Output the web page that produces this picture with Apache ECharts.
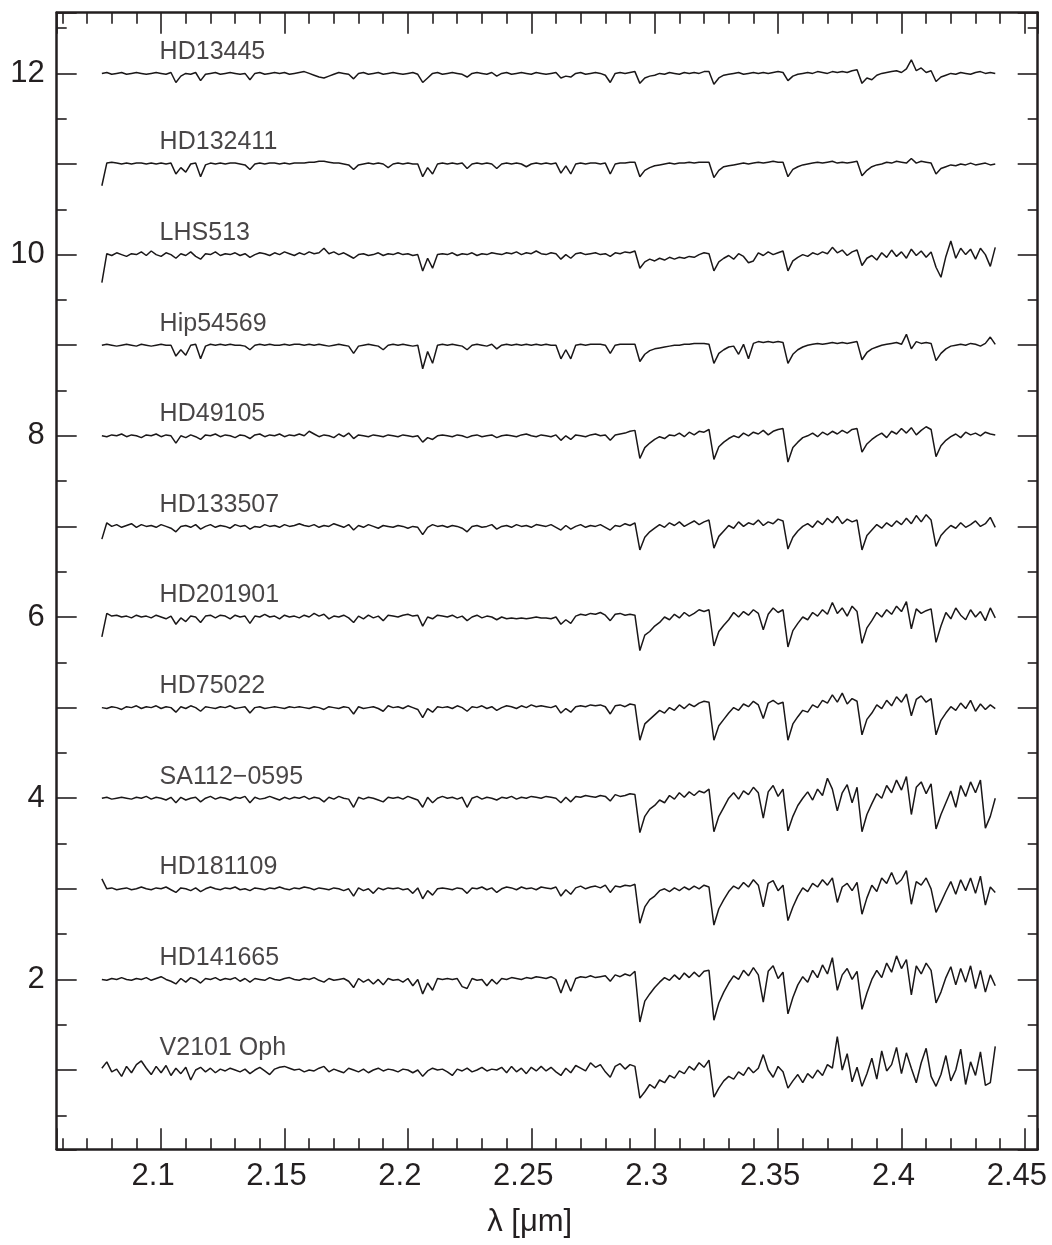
<!DOCTYPE html>
<html><head><meta charset="utf-8">
<script src="https://cdn.jsdelivr.net/npm/echarts@6/dist/echarts.min.js"></script>
<style>html,body{margin:0;padding:0;background:#fff}#chart{width:1052px;height:1245px}</style>
</head><body><div id="chart"></div>
<script>
// wavelength grid (micron)
const wavelength = [
2.076,2.078,2.080,2.082,2.084,2.086,2.088,2.090,2.092,2.094,
2.096,2.098,2.100,2.102,2.104,2.106,2.108,2.110,2.112,2.114,
2.116,2.118,2.120,2.122,2.124,2.126,2.128,2.130,2.132,2.134,
2.136,2.138,2.140,2.142,2.144,2.146,2.148,2.150,2.152,2.154,
2.156,2.158,2.160,2.162,2.164,2.166,2.168,2.170,2.172,2.174,
2.176,2.178,2.180,2.182,2.184,2.186,2.188,2.190,2.192,2.194,
2.196,2.198,2.200,2.202,2.204,2.206,2.208,2.210,2.212,2.214,
2.216,2.218,2.220,2.222,2.224,2.226,2.228,2.230,2.232,2.234,
2.236,2.238,2.240,2.242,2.244,2.246,2.248,2.250,2.252,2.254,
2.256,2.258,2.260,2.262,2.264,2.266,2.268,2.270,2.272,2.274,
2.276,2.278,2.280,2.282,2.284,2.286,2.288,2.290,2.292,2.294,
2.296,2.298,2.300,2.302,2.304,2.306,2.308,2.310,2.312,2.314,
2.316,2.318,2.320,2.322,2.324,2.326,2.328,2.330,2.332,2.334,
2.336,2.338,2.340,2.342,2.344,2.346,2.348,2.350,2.352,2.354,
2.356,2.358,2.360,2.362,2.364,2.366,2.368,2.370,2.372,2.374,
2.376,2.378,2.380,2.382,2.384,2.386,2.388,2.390,2.392,2.394,
2.396,2.398,2.400,2.402,2.404,2.406,2.408,2.410,2.412,2.414,
2.416,2.418,2.420,2.422,2.424,2.426,2.428,2.430,2.432,2.434,
2.436,2.438];

const starNames = ['HD13445','HD132411','LHS513','Hip54569','HD49105','HD133507','HD201901','HD75022','SA112\u22120595','HD181109','HD141665','V2101 Oph'];
const offsets = [11,10,9,8,7,6,5,4,3,2,1,0];

// normalised flux of each star (offset added when plotted)
const HD13445 = [
1.00,1.01,0.99,1.00,1.01,0.99,1.00,1.01,1.00,0.99,
1.00,1.01,1.00,0.99,1.01,0.90,0.97,1.00,0.99,1.01,
0.92,0.99,1.00,1.01,0.99,1.00,1.01,1.00,0.99,1.00,
0.93,1.00,1.01,0.99,1.00,1.01,1.00,1.01,0.99,1.00,
1.01,1.02,1.00,0.98,0.96,0.95,0.97,0.99,1.01,1.00,
0.99,0.94,1.00,1.01,0.99,1.00,1.01,0.99,1.00,1.01,
1.00,0.99,1.00,1.01,0.99,0.90,0.95,1.00,1.01,0.99,
1.00,1.01,1.00,0.99,0.96,1.00,1.01,1.00,0.99,1.01,
0.97,1.00,1.01,0.99,1.00,1.01,1.00,0.99,1.01,1.00,
0.99,1.00,1.01,0.95,0.97,0.96,1.00,1.01,0.99,1.00,
1.01,1.00,0.98,0.90,1.00,1.01,1.00,1.01,1.02,0.89,
0.95,0.97,0.98,1.00,0.99,1.01,1.00,0.99,1.01,1.00,
1.01,1.00,1.02,1.02,0.88,0.95,0.98,0.99,1.00,1.01,
0.99,1.00,1.01,1.00,1.01,1.00,1.01,1.02,1.01,0.92,
0.97,0.99,1.00,1.01,1.00,1.02,1.01,1.00,1.02,1.01,
1.02,1.01,1.03,1.04,0.89,0.95,0.93,0.98,1.00,1.01,
1.02,1.03,1.01,1.05,1.15,1.03,1.06,1.01,1.03,0.91,
0.96,0.98,1.00,0.99,1.01,1.00,0.99,1.01,1.02,1.00,
1.01,1.00];
const HD132411 = [
0.76,1.01,1.02,1.01,1.00,1.01,1.00,1.01,1.01,1.00,
1.01,1.00,1.01,1.00,1.01,0.89,0.96,0.91,1.00,1.01,
0.86,0.99,1.01,1.00,1.01,1.00,1.01,1.01,1.00,0.99,
0.94,1.00,1.01,1.00,1.01,1.01,1.00,1.01,1.00,1.01,
1.01,1.01,1.02,1.02,1.03,1.03,1.02,1.01,1.01,1.00,
0.99,0.94,0.99,1.00,1.01,1.00,1.01,1.00,0.96,1.00,
1.01,1.00,1.01,1.00,1.00,0.86,0.96,0.89,1.00,1.01,
1.00,1.01,1.00,1.01,0.95,1.00,1.01,1.00,1.01,1.00,
0.95,1.00,1.01,1.00,1.01,1.00,0.97,1.00,1.01,1.00,
1.01,1.00,1.01,0.90,0.98,0.89,1.00,1.01,1.00,1.01,
1.01,1.00,1.01,0.89,1.00,1.01,1.01,1.02,1.02,0.86,
0.93,0.96,0.98,0.99,1.00,1.01,1.00,1.01,1.01,1.02,
1.01,1.02,1.02,1.02,0.85,0.93,0.97,0.98,0.99,1.00,
1.01,1.00,1.01,1.02,1.01,1.02,1.03,1.02,1.02,0.86,
0.94,0.97,0.99,1.00,1.01,1.02,1.01,1.02,1.03,1.01,
1.02,1.01,1.02,1.03,0.87,0.93,0.97,0.99,1.00,1.02,
1.01,1.03,1.02,1.01,1.06,1.01,1.03,1.02,1.01,0.89,
0.95,0.97,0.99,0.98,1.00,0.99,1.01,0.99,1.00,1.01,
0.99,1.00];
const LHS513 = [
0.69,1.01,0.99,1.02,1.00,0.98,1.01,1.00,1.03,0.99,
1.04,1.00,0.98,1.02,1.00,0.96,1.01,0.99,1.03,0.98,
0.95,1.01,1.00,1.03,0.99,1.01,1.00,1.02,0.99,1.01,
0.97,1.00,1.02,1.01,0.99,1.02,1.00,1.03,1.01,0.99,
1.02,1.00,1.03,1.01,1.02,1.07,1.01,1.03,1.00,1.02,
0.99,0.96,1.00,1.01,0.99,1.00,1.02,0.99,1.01,1.00,
1.02,1.00,1.01,0.99,1.00,0.82,0.96,0.85,1.00,1.01,
1.00,1.02,0.99,1.01,1.00,1.02,0.99,1.01,1.00,1.02,
1.01,1.00,1.02,1.01,1.03,1.00,1.02,1.01,1.04,1.01,
1.00,1.02,1.01,0.95,1.00,0.96,1.01,1.02,1.00,1.01,
1.02,1.00,1.01,0.98,1.02,1.01,1.03,1.02,1.04,0.85,
0.92,0.95,0.93,0.96,0.94,0.97,0.95,0.97,0.96,0.98,
0.97,1.00,1.02,1.01,0.82,0.92,0.96,0.99,0.95,1.01,
0.98,0.91,0.93,1.02,0.99,1.03,1.00,1.02,1.04,0.82,
0.93,0.97,1.00,0.98,1.02,1.00,1.03,1.01,1.08,1.02,
1.05,0.99,1.03,1.05,0.88,0.96,0.99,0.94,1.02,0.97,
1.05,0.98,1.03,0.96,1.06,0.99,1.04,0.97,1.03,0.86,
0.75,0.98,1.15,0.96,1.07,1.00,1.06,0.95,1.07,1.00,
0.87,1.08];
const Hip54569 = [
1.00,1.01,1.00,0.99,1.00,1.01,1.00,0.99,1.01,1.00,
0.99,1.00,1.01,1.00,1.00,0.88,0.95,0.89,1.00,1.01,
0.85,0.99,1.01,1.00,1.01,1.00,1.01,1.00,1.00,0.99,
0.95,1.00,1.01,1.00,1.01,1.00,1.00,1.01,1.00,1.01,
1.01,1.00,1.01,1.00,1.01,1.00,0.99,1.00,1.01,1.00,
0.99,0.91,0.99,1.00,1.01,1.00,0.99,0.95,1.00,1.01,
1.00,1.01,1.00,0.99,1.00,0.74,0.93,0.80,1.00,1.01,
1.00,1.01,1.00,0.99,0.95,1.00,1.01,1.00,0.99,1.01,
0.96,1.00,1.01,1.00,1.01,1.00,1.01,1.00,1.01,1.00,
1.01,1.00,1.00,0.85,0.95,0.85,1.00,1.01,1.00,1.01,
1.01,1.01,1.00,0.91,1.00,1.01,1.01,1.01,1.01,0.82,
0.90,0.94,0.96,0.97,0.98,0.99,1.00,1.00,1.01,1.01,
1.02,1.02,1.02,1.01,0.80,0.91,0.95,0.98,0.99,0.90,
1.01,0.85,1.02,1.04,1.03,1.04,1.03,1.04,1.03,0.80,
0.90,0.95,0.98,1.00,1.01,1.02,1.01,1.02,1.03,1.02,
1.03,1.02,1.03,1.04,0.84,0.92,0.96,0.98,1.00,1.01,
1.02,1.03,1.01,1.12,0.96,1.04,1.02,1.03,1.02,0.83,
0.91,0.96,0.99,1.00,1.01,1.00,1.02,1.01,0.99,1.02,
1.09,1.01];
const HD49105 = [
1.00,0.99,1.01,1.00,1.02,0.99,1.01,1.00,0.98,1.01,
1.00,1.02,0.99,1.01,1.00,0.92,1.00,0.98,1.01,0.99,
0.96,1.01,1.00,1.02,0.99,1.01,1.00,0.98,1.01,1.00,
0.97,1.01,1.02,0.99,1.01,1.00,1.02,0.99,1.01,1.00,
1.02,1.00,1.05,1.02,0.99,1.01,1.00,0.98,1.02,0.99,
1.03,0.97,1.01,1.00,0.99,1.01,1.00,0.99,1.01,1.00,
0.99,1.01,1.00,0.99,1.00,0.93,0.98,0.96,1.00,1.01,
1.00,0.99,1.01,1.00,0.98,1.00,1.01,0.99,1.00,1.01,
0.98,1.00,1.01,1.00,0.99,1.01,1.02,1.00,0.99,1.01,
1.00,0.99,1.01,0.95,1.00,0.96,1.01,1.00,0.99,1.01,
1.02,1.00,1.01,0.95,1.01,1.02,1.03,1.05,1.06,0.75,
0.87,0.92,0.96,0.99,0.97,1.01,1.00,1.03,0.99,1.04,
1.01,1.05,1.04,1.07,0.74,0.88,0.93,0.97,1.00,0.98,
1.03,1.00,1.04,1.02,1.06,1.01,1.05,1.07,1.08,0.71,
0.87,0.93,0.98,1.00,1.03,0.99,1.04,1.01,1.05,1.02,
1.06,1.03,1.07,1.08,0.82,0.91,0.96,1.00,1.03,0.98,
1.05,1.02,1.08,1.03,1.09,1.01,1.06,1.10,1.07,0.77,
0.89,0.95,0.99,1.02,0.98,1.04,1.01,1.03,1.00,1.04,
1.02,1.01];
const HD133507 = [
0.86,1.04,1.00,1.02,0.99,1.01,1.03,0.99,1.02,1.00,
1.01,0.99,1.02,1.00,0.98,0.94,1.00,1.01,0.99,1.02,
0.97,1.00,1.02,0.99,1.01,1.00,0.98,1.02,1.00,1.01,
0.97,1.00,0.99,1.02,1.00,1.01,0.99,1.02,1.00,1.01,
1.03,1.01,1.00,1.02,0.99,1.01,1.00,1.03,1.01,0.99,
1.02,0.96,1.01,0.99,1.02,1.00,0.98,1.01,1.00,0.99,
1.01,1.00,0.98,1.00,0.99,0.91,0.99,1.02,1.00,1.01,
0.99,1.01,1.00,0.98,0.94,1.00,1.01,0.99,1.00,1.02,
0.97,1.00,1.01,0.99,1.02,1.00,1.01,0.99,1.02,1.01,
1.00,1.02,0.99,0.96,1.01,0.97,1.00,1.02,0.99,1.01,
1.00,1.02,0.99,0.96,1.01,1.00,1.03,1.01,1.04,0.74,
0.88,0.94,0.98,1.02,0.99,1.04,1.01,1.05,1.00,1.03,
1.06,1.02,1.05,1.07,0.76,0.89,0.95,1.01,0.98,1.05,
1.00,1.04,1.02,1.07,1.01,1.05,1.03,1.08,1.06,0.75,
0.88,0.95,1.00,1.03,0.99,1.06,1.02,1.09,1.04,1.11,
1.03,1.08,1.05,1.07,0.74,0.90,0.96,1.02,0.98,1.04,
1.00,1.06,1.02,1.09,1.03,1.12,1.05,1.13,1.07,0.78,
0.90,0.96,1.01,0.98,1.04,0.99,1.02,1.06,1.00,1.03,
1.10,0.99];
const HD201901 = [
0.78,1.04,1.01,1.02,1.00,1.01,0.99,1.02,1.00,1.01,
0.99,1.02,1.00,0.98,1.01,0.92,0.99,0.95,1.01,1.00,
0.94,1.01,1.02,0.99,1.02,1.01,0.98,1.02,1.00,1.01,
0.93,1.01,1.00,1.03,1.00,1.01,0.98,1.02,1.00,1.01,
0.99,1.02,1.00,1.04,1.01,1.03,0.98,1.01,1.00,1.02,
0.99,0.94,1.01,0.98,1.02,0.99,1.01,0.96,1.02,1.01,
1.00,1.02,1.03,1.01,1.02,0.90,1.00,0.98,1.02,1.01,
1.00,1.02,0.99,1.01,0.96,1.00,1.02,0.99,1.01,1.00,
0.97,1.00,0.98,0.99,0.98,0.99,0.98,0.99,1.00,0.99,
0.99,0.98,1.00,0.92,0.97,0.93,1.01,1.03,1.02,1.04,
1.03,1.05,1.02,0.96,1.03,1.04,1.02,1.03,1.02,0.63,
0.80,0.84,0.90,0.94,1.00,0.97,1.03,0.99,1.05,1.01,
1.04,1.08,1.06,1.08,0.68,0.84,0.91,0.97,1.05,1.00,
1.06,1.02,1.08,1.04,0.86,1.03,1.10,1.05,1.08,0.67,
0.85,0.93,1.00,0.97,1.05,1.01,1.08,1.03,1.16,1.04,
1.10,1.01,1.12,1.06,0.71,0.88,0.96,1.05,1.00,1.08,
1.03,1.12,1.06,1.17,0.87,1.09,1.04,1.07,1.09,0.72,
0.90,1.05,0.98,1.10,1.02,0.97,1.08,1.00,1.06,0.96,
1.10,0.99];
const HD75022 = [
1.00,0.99,1.01,1.00,0.98,1.01,1.00,1.02,0.99,1.01,
1.00,1.02,0.99,1.01,1.00,0.95,1.01,0.99,1.02,1.00,
0.96,1.01,1.00,0.99,1.01,1.00,1.02,0.99,1.00,1.01,
0.94,1.00,1.01,0.99,1.00,1.01,1.00,0.99,1.01,1.00,
1.01,1.00,0.99,1.01,1.00,0.98,1.01,1.00,0.99,1.01,
1.00,0.93,1.01,0.99,1.00,1.01,0.99,0.96,1.02,1.00,
1.01,0.99,1.02,1.00,0.98,0.89,0.99,0.95,1.01,1.00,
1.01,0.99,1.02,1.00,0.96,1.01,1.00,1.02,0.99,1.01,
0.97,1.00,1.02,1.01,0.99,1.02,1.00,1.03,1.01,1.02,
1.01,1.00,1.02,0.94,0.99,0.95,1.01,1.02,1.01,1.03,
1.02,1.03,1.01,0.93,1.02,1.03,1.01,1.04,1.03,0.64,
0.82,0.87,0.92,0.97,0.94,1.00,0.97,1.03,0.99,1.04,
1.01,1.05,1.07,1.06,0.64,0.80,0.87,0.94,1.00,0.97,
1.04,1.01,1.07,1.03,0.88,1.05,1.08,1.04,1.06,0.64,
0.82,0.90,0.97,0.95,1.03,1.00,1.08,1.05,1.14,1.06,
1.16,1.04,1.10,1.07,0.70,0.87,0.94,1.03,0.99,1.08,
1.02,1.12,1.06,1.15,0.91,1.09,1.13,1.06,1.10,0.70,
0.86,0.94,1.01,0.97,1.05,0.99,1.08,0.96,1.04,0.98,
1.03,0.99];
const SA112_0595 = [
1.00,1.01,0.99,1.00,1.01,1.00,0.99,1.01,1.00,1.02,
0.99,1.01,1.00,0.98,1.01,0.95,1.01,0.98,1.00,1.01,
0.96,1.00,1.02,0.99,1.01,1.00,0.98,1.01,1.00,1.02,
0.95,1.01,0.99,1.00,1.02,1.00,0.98,1.01,0.99,1.01,
1.00,1.02,0.99,1.01,1.00,0.96,1.01,0.99,1.02,1.00,
0.99,0.90,1.01,0.99,1.01,1.00,0.98,0.96,1.01,1.00,
1.01,0.99,1.02,1.00,0.98,0.90,1.01,0.95,1.00,1.02,
1.00,1.01,0.99,1.01,0.90,1.00,1.02,0.99,1.01,1.00,
0.98,1.01,1.00,1.02,0.99,1.01,1.00,1.02,1.01,1.00,
1.02,1.01,1.00,0.95,1.01,0.96,1.02,1.01,1.03,1.02,
1.01,1.03,1.02,0.97,1.04,1.02,1.03,1.05,1.04,0.62,
0.80,0.88,0.92,0.98,0.95,1.03,0.99,1.06,1.01,1.07,
1.03,1.08,1.06,1.10,0.63,0.80,0.90,1.00,1.06,0.99,
1.08,1.04,1.12,1.06,0.78,1.07,1.14,1.02,1.10,0.64,
0.80,0.92,1.00,1.07,0.98,1.10,1.03,1.22,1.10,0.86,
1.06,1.15,0.95,1.12,0.63,0.82,0.94,1.05,1.00,1.14,
1.06,1.20,1.09,1.24,0.82,1.12,1.18,1.05,1.16,0.66,
0.82,0.95,1.08,0.90,1.14,1.02,1.18,1.06,1.20,0.67,
0.80,1.00];
const HD181109 = [
1.11,1.00,1.01,0.99,1.00,1.01,0.99,1.00,1.02,1.00,
0.99,1.01,1.00,1.02,0.99,0.96,1.01,1.00,0.98,1.01,
0.97,1.00,1.02,1.00,0.99,1.01,1.00,1.02,0.99,1.00,
0.98,1.01,1.00,0.99,1.01,1.00,1.02,1.00,0.99,1.01,
1.00,1.02,1.01,0.99,1.01,1.00,0.99,1.01,1.00,0.98,
1.00,0.92,1.01,0.98,1.00,0.95,1.01,0.99,1.01,1.00,
1.01,0.99,1.00,0.95,1.01,0.89,0.98,0.93,1.00,1.01,
1.00,0.99,1.01,1.00,0.95,1.01,1.00,1.02,0.99,1.01,
0.96,1.00,1.02,1.01,0.99,1.02,1.00,1.01,0.99,1.02,
1.01,1.00,1.02,0.92,0.99,0.94,1.01,1.03,1.00,1.02,
1.03,1.01,1.04,0.96,1.03,1.02,1.04,1.03,1.05,0.62,
0.80,0.88,0.92,0.98,1.00,0.97,1.01,0.98,1.02,0.99,
1.03,1.00,1.04,1.02,0.60,0.78,0.88,0.97,1.03,1.00,
1.07,1.02,1.10,1.04,0.80,1.06,1.09,0.98,1.04,0.65,
0.80,0.92,1.01,0.97,1.06,1.02,1.10,1.04,1.12,0.85,
1.02,1.06,0.98,1.07,0.72,0.90,1.04,0.97,1.12,1.06,
1.18,1.05,1.10,1.20,0.83,1.08,1.04,1.12,1.00,0.74,
0.85,0.97,1.08,0.94,1.10,0.98,1.12,0.95,1.14,0.82,
1.02,0.96];
const HD141665 = [
1.00,0.99,1.01,1.00,1.02,1.00,0.99,1.01,1.00,1.02,
0.99,1.01,1.03,1.00,0.98,0.95,1.01,0.97,1.02,1.00,
0.96,1.01,1.00,1.02,0.99,1.01,1.00,1.02,0.98,1.01,
0.97,1.01,1.00,0.99,1.02,1.00,0.99,1.01,1.02,1.00,
0.99,1.01,1.00,1.02,0.99,0.97,1.01,0.99,1.00,1.01,
0.98,0.91,1.01,0.97,1.00,0.95,1.00,0.94,1.01,0.99,
1.00,0.97,1.01,0.93,1.00,0.84,0.96,0.88,1.01,1.00,
1.01,1.00,1.01,0.92,0.90,1.01,0.99,1.00,0.93,1.00,
0.95,1.01,1.00,1.02,1.01,1.00,1.02,1.01,1.03,1.02,
1.01,1.03,1.00,0.85,1.00,0.87,1.01,1.03,1.02,1.04,
1.02,1.03,1.04,0.98,1.05,1.03,1.06,1.04,1.09,0.53,
0.76,0.84,0.91,0.97,1.02,0.99,1.05,1.00,1.07,1.02,
1.08,1.03,1.09,1.10,0.55,0.74,0.86,0.96,1.04,1.00,
1.10,1.04,1.13,1.05,0.75,1.09,1.15,1.01,1.08,0.62,
0.80,0.94,1.03,0.97,1.10,1.02,1.16,1.06,1.24,0.88,
1.05,1.12,1.00,1.09,0.67,0.85,1.00,1.10,1.02,1.18,
1.08,1.26,1.12,1.22,0.83,1.15,1.06,1.18,1.10,0.74,
0.86,1.02,1.14,0.94,1.12,0.97,1.15,0.90,1.10,0.86,
1.05,0.93];
const V2101_Oph = [
1.02,1.09,0.98,1.01,0.93,1.04,0.97,1.06,1.10,1.02,
0.95,1.04,0.97,1.05,0.94,1.02,0.96,1.03,0.89,1.00,
1.03,0.98,1.02,0.97,1.01,0.99,1.02,1.00,0.98,1.01,
0.96,1.00,1.03,0.99,0.95,1.01,1.03,1.04,1.02,1.00,
1.01,0.98,1.00,0.99,1.02,1.04,0.98,1.01,0.99,0.97,
1.02,1.00,0.98,1.01,0.97,1.00,1.02,0.99,1.01,1.00,
0.98,1.01,1.00,0.97,1.00,0.93,0.99,1.02,1.00,1.01,
0.98,0.94,1.01,0.99,1.02,0.98,1.00,1.03,0.99,1.01,
1.00,1.03,0.97,1.04,0.98,1.02,0.96,1.03,0.99,1.04,
0.99,1.03,0.98,0.94,1.02,0.97,1.05,1.02,0.99,1.08,
1.03,1.06,0.98,0.92,1.04,1.07,1.01,1.06,1.04,0.69,
0.76,0.84,0.80,0.89,0.86,0.94,0.91,0.99,0.96,1.04,
1.00,1.08,1.03,1.11,0.70,0.80,0.88,0.93,0.90,0.98,
0.94,1.03,0.97,1.02,1.17,1.00,0.92,1.04,0.98,0.80,
0.88,0.95,0.86,0.96,0.91,1.00,0.94,1.06,1.02,1.37,
1.00,1.18,0.87,1.03,0.82,0.96,1.13,0.90,1.21,0.99,
1.06,1.25,0.96,1.19,1.02,0.86,1.08,1.24,0.93,0.82,
0.95,1.16,0.88,1.00,1.23,0.84,1.09,0.94,1.20,0.83,
0.86,1.26];

const spectra = [HD13445, HD132411, LHS513, Hip54569, HD49105, HD133507, HD201901, HD75022, SA112_0595, HD181109, HD141665, V2101_Oph];

const INK = '#231f20';
const FONT = '"Liberation Sans", Arial, Helvetica, sans-serif';

function xLabel(v) {
  const k = v * 20;
  return Math.abs(k - Math.round(k)) < 1e-6 ? String(+v.toFixed(2)) : '';
}
function yLabel(v) {
  const r = Math.round(v);
  return (Math.abs(v - r) < 1e-6 && r % 2 === 0 && r > 0) ? String(r) : '';
}

const xCommon = {
  type: 'value', min: 2.0577, max: 2.4552, splitNumber: 8, minInterval: 0.05, maxInterval: 0.05,
  axisLine: { show: true, onZero: false, lineStyle: { color: INK, width: 2.5 } },
  axisTick: { show: true, inside: true, length: 21, lineStyle: { color: INK, width: 1.6 } },
  minorTick: { show: true, splitNumber: 5, length: 11, lineStyle: { color: INK, width: 1.6 } },
  splitLine: { show: false }, minorSplitLine: { show: false }
};
const yCommon = {
  type: 'value', min: 0.125, max: 12.67, splitNumber: 12, minInterval: 1, maxInterval: 1,
  axisLine: { show: true, onZero: false, lineStyle: { color: INK, width: 2.5 } },
  axisTick: { show: true, inside: true, length: 20, lineStyle: { color: INK, width: 1.6 } },
  minorTick: { show: true, splitNumber: 2, length: 10, lineStyle: { color: INK, width: 1.6 } },
  splitLine: { show: false }, minorSplitLine: { show: false }
};

const lineSeries = spectra.map((flux, k) => ({
  type: 'line', name: starNames[k], xAxisIndex: 0, yAxisIndex: 0,
  data: wavelength.map((w, i) => [w, flux[i] + offsets[k]]),
  symbol: 'none', showSymbol: false, silent: true, animation: false,
  lineStyle: { color: '#1a1718', width: 1.5 }, z: 3
}));

const labelSeries = {
  type: 'scatter', xAxisIndex: 0, yAxisIndex: 0, symbolSize: 1, silent: true, animation: false,
  itemStyle: { color: 'rgba(0,0,0,0)' },
  data: starNames.map((n, k) => ({ name: n, value: [2.0992, offsets[k] + 1.238] })),
  label: { show: true, position: 'right', distance: 0, formatter: '{b}', color: '#1a1718', fontSize: 25, fontFamily: FONT }
};

const chart = echarts.init(document.getElementById('chart'), null, { renderer: 'canvas' });
chart.setOption({
  animation: false,
  backgroundColor: '#ffffff',
  grid: { left: 56.7, right: 14.3, top: 12.7, bottom: 95.7, containLabel: false, outerBoundsMode: 'none' },
  xAxis: [
    Object.assign({}, xCommon, {
      position: 'bottom',
      axisLabel: { show: true, formatter: xLabel, color: INK, fontSize: 31, fontFamily: FONT, margin: 12, padding: [0, 16, 0, 0] },
      name: '\u03bb [\u03bcm]', nameLocation: 'middle', nameGap: 58,
      nameTextStyle: { color: INK, fontSize: 31, fontFamily: FONT, padding: [0, 35, 0, 0] }
    }),
    Object.assign({}, xCommon, { position: 'top', axisLabel: { show: false } })
  ],
  yAxis: [
    Object.assign({}, yCommon, {
      position: 'left',
      axisLabel: { show: true, formatter: yLabel, color: INK, fontSize: 31, fontFamily: FONT, margin: 12, padding: [8, 0, 0, 0] }
    }),
    Object.assign({}, yCommon, { position: 'right', axisLabel: { show: false } })
  ],
  series: lineSeries.concat([labelSeries])
});
</script>
</body></html>
